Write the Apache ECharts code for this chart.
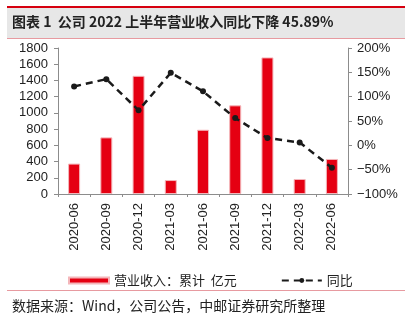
<!DOCTYPE html>
<html><head><meta charset="utf-8">
<script src="https://cdn.jsdelivr.net/npm/echarts@6/dist/echarts.min.js"></script>
<style>html,body{margin:0;padding:0;background:#fff}#c{width:405px;height:321px}</style>
</head><body><div id="c"></div>
<script>
const categories = ['2020-06','2020-09','2020-12','2021-03','2021-06','2021-09','2021-12','2022-03','2022-06'];
const revenue = [375, 698, 1457, 172, 792, 1093, 1684, 185, 432];
const yoy = [121, 136, 72, 149, 111, 56, 15, 6, -46];
const leftTicks = {min: 0, max: 1800, interval: 200};
const rightTicks = {min: -100, max: 200, interval: 50};
const seriesNames = ['营业收入：累计  亿元', '同比'];
const titleText = '图表 1  公司 2022 上半年营业收入同比下降 45.89%';
const sourceText = '数据来源：Wind，公司公告，中邮证券研究所整理';

const FONT = '"Noto Sans CJK SC", "Liberation Sans", sans-serif';
const NUMFONT = '"Liberation Sans", Arial, sans-serif';
const chart = echarts.init(document.getElementById('c'), null, {renderer: 'canvas'});
chart.setOption({
  animation: false,
  backgroundColor: '#fff',
  graphic: [
    {type: 'rect', shape: {x: 7, y: 8, width: 398, height: 30}, style: {fill: '#e7e7e7'}},
    {type: 'rect', shape: {x: 7, y: 6, width: 398, height: 2}, style: {fill: '#d6000f'}},
    {type: 'rect', shape: {x: 7, y: 38, width: 398, height: 1}, style: {fill: '#e79aa0'}},
    {type: 'text', left: 12, top: 15, style: {text: titleText, font: 'bold 14px ' + FONT, fill: '#222'}},
    {type: 'rect', shape: {x: 7, y: 290, width: 398, height: 1}, style: {fill: '#e79aa0'}},
    {type: 'text', left: 12, top: 299, style: {text: sourceText, font: '14px ' + FONT, fill: '#222'}}
  ],
  legend: {
    left: 63, top: 269, itemGap: 44, itemWidth: 40, itemHeight: 6,
    textStyle: {fontFamily: FONT, fontSize: 13, color: '#222'},
    data: [
      {name: seriesNames[0], icon: 'rect'},
      {name: seriesNames[1]}
    ]
  },
  grid: {left: 58, right: 57, top: 48, bottom: 127, containLabel: false},
  xAxis: {
    type: 'category', data: categories, boundaryGap: true,
    axisLine: {lineStyle: {color: '#8c8c8c', width: 1}},
    axisTick: {show: true, length: 3, alignWithLabel: false, lineStyle: {color: '#8c8c8c'}},
    axisLabel: {rotate: 90, margin: 9, interval: 0, fontFamily: NUMFONT, fontSize: 13, color: '#222'}
  },
  yAxis: [
    {type: 'value', min: leftTicks.min, max: leftTicks.max, interval: leftTicks.interval,
     axisLine: {show: true, lineStyle: {color: '#8c8c8c'}},
     axisTick: {show: true, length: 4, lineStyle: {color: '#8c8c8c'}},
     splitLine: {show: false},
     axisLabel: {margin: 10, fontFamily: NUMFONT, fontSize: 13, color: '#222',
       formatter: v => String(v)}},
    {type: 'value', min: rightTicks.min, max: rightTicks.max, interval: rightTicks.interval,
     position: 'right',
     axisLine: {show: true, lineStyle: {color: '#8c8c8c'}},
     axisTick: {show: true, length: 4, lineStyle: {color: '#8c8c8c'}},
     splitLine: {show: false},
     axisLabel: {margin: 9, fontFamily: NUMFONT, fontSize: 13, color: '#222',
       formatter: v => (v < 0 ? '\u2212' + Math.abs(v) : v) + '%'}}
  ],
  series: [
    {name: seriesNames[0], type: 'bar', data: revenue, yAxisIndex: 0, barWidth: 12,
     itemStyle: {color: '#e50012', borderColor: '#f4b6ba', borderWidth: 1}},
    {name: seriesNames[1], type: 'line', data: yoy, yAxisIndex: 1,
     symbol: 'circle', symbolSize: 6,
     itemStyle: {color: '#1a1a1a'},
     lineStyle: {color: '#1a1a1a', width: 2.5, type: [7, 5]}}
  ]
});
</script></body></html>
